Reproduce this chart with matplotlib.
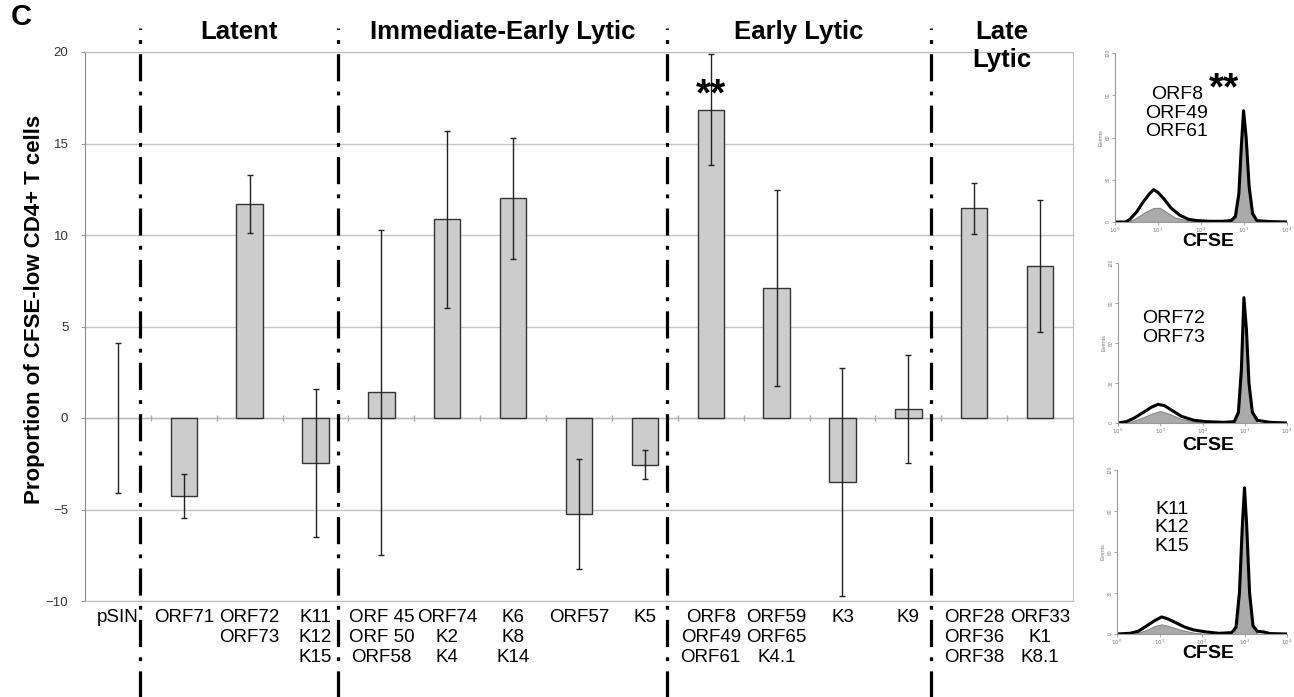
import matplotlib
matplotlib.use('Agg')
import matplotlib.pyplot as plt
import numpy as np

plt.rcParams['font.family'] = ['Liberation Sans', 'DejaVu Sans']

# bar chart data
constructs = ['pSIN', 'ORF71', 'ORF72\nORF73', 'K11\nK12\nK15',
              'ORF 45\nORF 50\nORF58', 'ORF74\nK2\nK4', 'K6\nK8\nK14',
              'ORF57', 'K5', 'ORF8\nORF49\nORF61', 'ORF59\nORF65\nK4.1',
              'K3', 'K9', 'ORF28\nORF36\nORF38', 'ORF33\nK1\nK8.1']
values = [0, -4.25, 11.7, -2.45, 1.4, 10.85, 12.0, -5.25, -2.55,
          16.85, 7.1, -3.5, 0.5, 11.45, 8.3]
errors = [4.1, 1.2, 1.6, 4.05, 8.9, 4.85, 3.3, 3.0, 0.78,
          3.05, 5.35, 6.25, 2.95, 1.37, 3.6]

group_names = ['Latent', 'Immediate-Early Lytic', 'Early Lytic', 'Late\nLytic']
group_first = [1, 4, 9, 13]
starred = 9

# CFSE histograms: decade (log10 CFSE) vs events
hist_titles = ['ORF8\nORF49\nORF61', 'ORF72\nORF73', 'K11\nK12\nK15']
h1_x = [0.0, 0.25, 0.35, 0.5, 0.65, 0.8, 0.9, 1.0, 1.15, 1.3, 1.5, 1.7, 1.9, 2.2,
        2.5, 2.7, 2.8, 2.88, 2.94, 2.99, 3.05, 3.12, 3.2, 3.3, 3.6, 4.0]
h1_y = [0, 0, 2, 7, 14, 20, 23, 21, 16, 10, 5, 2, 1, 0.5,
        0.5, 1, 4, 20, 55, 79, 60, 25, 6, 1, 0.3, 0]
h1g_x = [0.3, 0.5, 0.7, 0.9, 1.05, 1.2, 1.4, 1.7, 2.0, 2.7, 2.8, 2.88, 2.94, 2.99,
         3.05, 3.12, 3.2, 3.3, 4.0]
h1g_y = [0, 3, 7, 10, 10, 7, 3, 1, 0, 0, 3, 18, 50, 76, 55, 20, 4, 0, 0]

h2_x = [0.0, 0.2, 0.4, 0.6, 0.8, 0.95, 1.1, 1.3, 1.5, 1.8, 2.1, 2.5, 2.75, 2.85,
        2.92, 2.98, 3.04, 3.1, 3.18, 3.3, 3.6, 4.0]
h2_y = [0, 1, 4, 8, 12, 14, 13, 9, 5, 2, 1, 0.5, 1, 8, 40, 94, 70, 30, 8, 2, 0.5, 0]
h2g_x = [0.2, 0.5, 0.8, 1.0, 1.2, 1.5, 1.8, 2.1, 2.75, 2.85, 2.92, 2.98, 3.04,
         3.1, 3.2, 3.3, 4.0]
h2g_y = [0, 3, 7, 9, 7, 3, 1, 0, 0, 6, 35, 86, 62, 25, 4, 0, 0]

h3_x = [0.0, 0.3, 0.5, 0.7, 0.9, 1.05, 1.2, 1.4, 1.6, 1.8, 2.1, 2.4, 2.7, 2.8,
        2.88, 2.95, 3.0, 3.05, 3.12, 3.2, 3.3, 3.45, 3.6, 4.0]
h3_y = [0, 0.5, 2, 6, 10, 12.5, 11, 8, 5, 3, 1.5, 0.5, 1, 5,
        30, 80, 107, 80, 30, 6, 2, 1.5, 0.3, 0]
h3g_x = [0.4, 0.7, 0.9, 1.05, 1.2, 1.5, 1.8, 2.1, 2.75, 2.85, 2.92, 2.98, 3.04,
         3.1, 3.2, 3.3, 4.0]
h3g_y = [0, 3, 6, 7, 6, 3, 1, 0, 0, 10, 50, 100, 85, 35, 5, 0, 0]

W, H = 1294, 697


def px(x, y):
    return x / W, 1 - y / H


fig = plt.figure(figsize=(W / 100, H / 100), dpi=100)
ax = fig.add_axes([85 / W, 1 - 601 / H, 988 / W, 549 / H])

x = np.arange(len(constructs))
ax.bar(x, values, width=0.4, color='#cccccc', edgecolor='#333333',
       linewidth=[0 if v == 0 else 1 for v in values], zorder=2)
ax.errorbar(x, values, yerr=errors, fmt='none', ecolor='#222222',
            elinewidth=1, capsize=2.5, capthick=1, zorder=3)

ax.set_xlim(-0.5, len(constructs) - 0.5)
ax.set_ylim(-10, 20)
ax.set_yticks(np.arange(-10, 21, 5))
ax.yaxis.grid(True, color='#c4c4c4', linewidth=1)
ax.set_axisbelow(True)
ax.axhline(0, color='#bbbbbb', linewidth=1, zorder=1)
ax.plot(x[:-1] + 0.5, np.zeros(len(x) - 1), '|', color='#aaaaaa', ms=4, zorder=1)

ax.set_xticks(x, constructs, fontsize=13.5)
ax.tick_params(axis='x', length=0, pad=6)
ax.tick_params(axis='y', labelsize=9.5, labelcolor='#333333', length=3,
               color='#999999', pad=9)
for side in ['top', 'right', 'bottom']:
    ax.spines[side].set_color('#bdbdbd')
ax.spines['left'].set_color('#8a8a8a')

fig.text(*px(35, 309), 'Proportion of CFSE-low CD4+ T cells', fontsize=16,
         fontweight='bold', rotation=90, ha='center', va='center')

# group dividers and headings
dividers = [g - 0.66 for g in group_first]
edges = dividers + [len(constructs) - 0.5]
trans = ax.get_xaxis_transform()
for i, name in enumerate(group_names):
    ax.axvline(dividers[i], ymin=-0.18, ymax=1.044, clip_on=False, color='black',
               linewidth=2.3, dashes=(8.5, 3.2, 1.2, 3.2), zorder=4)
    xc = (edges[i] + edges[i + 1]) / 2
    ax.text(xc, 1.058, name, transform=trans, ha='center', va='top',
            fontsize=18.5, fontweight='bold', linespacing=1.2)

ax.text(starred, values[starred] + 0.25, '**', ha='center', va='baseline',
        fontsize=28, fontweight='bold')

fig.text(*px(21, 17), 'C', fontsize=21, fontweight='bold', ha='center', va='center')

# CFSE histogram panels
panels = [
    ([1115, 53, 1287, 222], h1_x, h1_y, h1g_x, h1g_y, (1177, 113), 242),
    ([1118, 263, 1287, 423], h2_x, h2_y, h2g_x, h2g_y, (1174, 328), 446),
    ([1117, 470, 1287, 634], h3_x, h3_y, h3g_x, h3g_y, (1172, 528), 654),
]
for k, (box, lx, ly, gx, gy, tpos, cy) in enumerate(panels):
    l, t, r, b = box
    hax = fig.add_axes([l / W, 1 - b / H, (r - l) / W, (b - t) / H])
    hax.fill_between(gx, gy, color='#aaaaaa', edgecolor='#888888', linewidth=0.8)
    hax.plot(lx, ly, color='black', linewidth=2.2)
    hax.set_xlim(0, 4)
    hax.set_ylim(0, 120)
    hax.set_xticks(range(5), ['$10^{%d}$' % d for d in range(5)], fontsize=4,
                   color='#777777')
    hax.set_yticks([0, 30, 60, 90, 120], ['0', '30', '60', '90', '120'], fontsize=3.5,
                   color='#777777', rotation=90, va='center')
    hax.tick_params(length=2, width=0.6, color='#999999', pad=1)
    hax.set_ylabel('Events', fontsize=4, color='#777777', labelpad=2)
    for side in ['top', 'right']:
        hax.spines[side].set_visible(False)
    for side in ['left', 'bottom']:
        hax.spines[side].set_color('#999999')
    fig.text(*px(*tpos), hist_titles[k], fontsize=14, ha='center', va='center',
             linespacing=1.12)
    fig.text(*px(1208, cy), 'CFSE', fontsize=14, fontweight='bold',
             ha='center', va='center')

fig.text(*px(1224, 99), '**', fontsize=28, fontweight='bold', ha='center',
         va='baseline')

fig.savefig('out.png', dpi=100)
